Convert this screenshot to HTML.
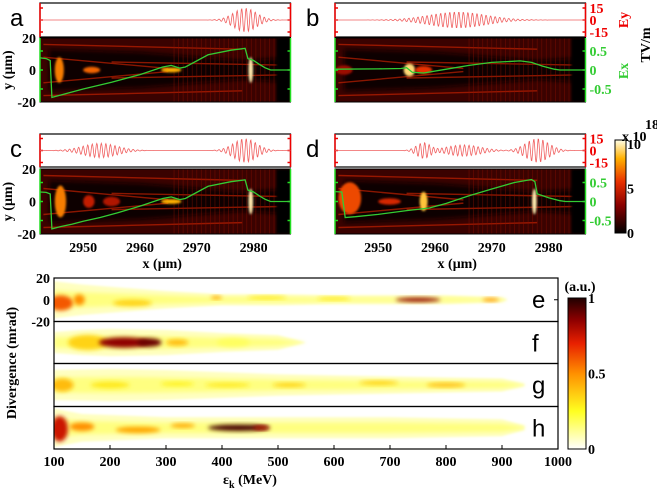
<!DOCTYPE html>
<html><head><meta charset="utf-8"><style>
html,body{margin:0;padding:0;background:#fff;}
svg{display:block;}
.tk{font-family:"Liberation Serif",serif;font-weight:bold;font-size:14px;}
.pl{font-family:"Liberation Sans",sans-serif;font-size:24px;}
</style></head><body>
<svg id="fig" width="657" height="491" viewBox="0 0 657 491" xmlns="http://www.w3.org/2000/svg">
<defs>
<filter id="bl2" x="-50%" y="-50%" width="200%" height="200%"><feGaussianBlur stdDeviation="2"/></filter>
<filter id="bl1" x="-50%" y="-50%" width="200%" height="200%"><feGaussianBlur stdDeviation="1"/></filter>
<linearGradient id="cbTop" x1="0" y1="1" x2="0" y2="0">
<stop offset="0" stop-color="#000"/><stop offset="0.3" stop-color="#8a0000"/><stop offset="0.55" stop-color="#e83000"/><stop offset="0.8" stop-color="#ffb000"/><stop offset="1" stop-color="#ffffe8"/></linearGradient>
<linearGradient id="cbBot" x1="0" y1="1" x2="0" y2="0">
<stop offset="0" stop-color="#ffffff"/><stop offset="0.25" stop-color="#ffff20"/><stop offset="0.5" stop-color="#ff9000"/><stop offset="0.7" stop-color="#e82000"/><stop offset="0.85" stop-color="#900000"/><stop offset="1" stop-color="#200000"/></linearGradient>
</defs>
<g id="topg"></g>
<g id="bottom"></g>
</svg>
<script>
// ---------- top panel data ----------
const panelNames = ['a','b','c','d'];
// Ex (TV/m) lineouts: [x um, Ex]
const exA = [[2942.4,0.32],[2943.5,0.3],[2944.2,0.25],[2944.5,-0.72],[2946,-0.66],[2950,-0.5],[2955,-0.32],[2960,-0.12],[2964,0.08],[2965.5,0.12],[2967,0.05],[2968,0.08],[2972,0.4],[2976,0.52],[2978.5,0.57],[2979,0.3],[2980,0.25],[2981,0.15],[2982,0.06],[2983,0],[2986.5,0]];
const exB = [[2942.4,0.02],[2950,0.03],[2954,0.04],[2955,0.06],[2956,-0.06],[2958,-0.08],[2962,0.02],[2966,0.12],[2970,0.2],[2975,0.24],[2977,0.2],[2979,0.1],[2981,0.02],[2982,0],[2986.5,0]];
const exC = [[2942.4,0.25],[2943.5,0.24],[2944.2,0.2],[2944.5,-0.72],[2946,-0.66],[2948,-0.6],[2950,-0.52],[2953,-0.42],[2956,-0.3],[2960,-0.12],[2964,0.08],[2965.5,0.12],[2967,0.05],[2968,0.08],[2972,0.4],[2976,0.52],[2978.5,0.57],[2979,0.3],[2980,0.25],[2981,0.15],[2982,0.06],[2983,0],[2986.5,0]];
const exD = [[2942.4,0.26],[2943.6,0.25],[2944.2,-0.42],[2946,-0.4],[2950,-0.34],[2955,-0.24],[2959,-0.17],[2962,-0.05],[2966,0.15],[2970,0.33],[2974,0.5],[2977,0.58],[2977.6,0.52],[2978,0.2],[2980,0.1],[2982,0.02],[2983,0],[2986.5,0]];
const exSeries = [exA, exB, exC, exD];
// Ey laser pulses: [centre um, halfwidth um, amplitude]
const eyA = [[2978.5,4,15]];
const eyB = [[2964,10,10]];
const eyC = [[2953,6,9],[2978.5,4,15]];
const eyD = [[2958,2.5,10],[2965,6,7],[2978,4,15]];
const eySeries = [eyA, eyB, eyC, eyD];
// density bright spots: [x um, y um, rx um, ry um, intensity]
const spotsA = [[2945.8,0,0.8,8,0.7],[2951.5,0,1.5,2,0.65],[2965.5,0,1.8,1.5,0.8],[2979.5,0,0.4,8,0.95]];
const spotsB = [[2944,0,1.5,3,0.35],[2955.5,0,1,4,0.9],[2958,0,1.5,2.5,0.55]];
const spotsC = [[2946,0,1,10,0.7],[2951,0,1,4,0.45],[2955,0,1.5,3,0.4],[2965.5,0,1.8,1.5,0.8],[2979.5,0,0.4,8,0.95]];
const spotsD = [[2945,2,2,10,0.6],[2952,0,2,2,0.5],[2958,0,0.7,6,0.85],[2977.5,0,0.4,8,0.95]];
const spotSeries = [spotsA, spotsB, spotsC, spotsD];
const xTicks = [2950,2960,2970,2980];
const yTicks = [20,0,-20];
const eyTicks = [15,0,-15];
const exTicks = [0.5,0,-0.5];

// ---------- bottom panel data ----------
const bottomNames = ['e','f','g','h'];
const envE = [100,150,200,300,400,500,600,700,800,900,910];
const envHwE = [17,14,12,8,5,5,4,4,4,2,0];
const envF = [100,150,200,300,400,450,500,550];
const envHwF = [10,12,13,12,9,8,7,0];
const envG = [100,200,300,400,500,600,700,800,900,940];
const envHwG = [14,15,14,12,10,9,8,7,6,1];
const envH = [100,150,300,500,700,900,940];
const envHwH = [18,13,10,10,10,8,2];
const envEnergies = [envE, envF, envG, envH];
const envHalfWidths = [envHwE, envHwF, envHwG, envHwH];
// hotspots: [energy MeV, div mrad, half-length MeV, half-height mrad, intensity]
const hotE = [[112,-3,22,7,0.6],[145,0,10,5,0.5],[240,-3,35,3,0.35],[390,2,10,1.5,0.45],[480,2,35,1.5,0.3],[600,1,30,1.5,0.3],[750,0,40,2,0.85],[880,0,15,1.5,0.5]];
const hotF = [[160,0,35,7,0.35],[225,0,45,5,0.85],[270,0,22,4,0.9],[320,0,20,3,0.4],[420,0,30,4,0.18]];
const hotG = [[115,0,20,6,0.4],[200,0,35,3,0.3],[320,1,30,2,0.28],[410,0,40,2,0.3],[520,0,30,2,0.35],[680,2,35,2,0.35],[800,0,35,2,0.4]];
const hotH = [[110,-1,15,12,0.75],[150,1,22,4,0.5],[250,-2,40,3,0.45],[330,2,22,2,0.45],[430,0,55,3,0.95],[470,0,15,2,0.8]];
const hotSeries = [hotE, hotF, hotG, hotH];
const eTicks = [100,200,300,400,500,600,700,800,900,1000];
const divTicks = [20,0,-20];
const cbTopTicks = [10,5,0];
const cbBotTicks = [1,0.5,0];

const NS='http://www.w3.org/2000/svg';
function mk(tag, attrs, parent){const e=document.createElementNS(NS,tag);for(const k in attrs)e.setAttribute(k,attrs[k]);parent.appendChild(e);return e;}
function txt(s, attrs, parent){const e=mk('text',attrs,parent);e.textContent=s;return e;}

const topG = document.getElementById('topg');
const px0 = [40,335,40,335], eyY0=[3,3,134,134], eyY1=[37,37,167,167], dY0=[38,38,169,169], dY1=[102,102,234,234];
const PW=250.5;
const uMin=2942.4, uMax=2986.5;
function xs(p,u){return px0[p]+(u-uMin)/(uMax-uMin)*PW;}
function ysD(p,v){return (dY0[p]+dY1[p])/2 - v/40*(dY1[p]-dY0[p]);}
function ysEx(p,v){return (dY0[p]+dY1[p])/2 - v*38;}
function ysEy(p,v){return (eyY0[p]+eyY1[p])/2 - v/15*12;}
function hot(t){
  t=Math.max(0,Math.min(1,t));
  const st=[[0,[0,0,0]],[0.3,[138,0,0]],[0.55,[232,48,0]],[0.8,[255,176,0]],[1,[255,255,232]]];
  for(let i=1;i<st.length;i++){if(t<=st[i][0]){const a=st[i-1],b=st[i],f=(t-a[0])/(b[0]-a[0]);return 'rgb('+a[1].map((c,j)=>Math.round(c+(b[1][j]-c)*f)).join(',')+')';}}
  return 'rgb(255,255,232)';
}
for(let p=0;p<4;p++){
  const g=mk('g',{},topG);
  
  
  const eb=mk('rect',{x:px0[p],y:eyY0[p],width:PW,height:eyY1[p]-eyY0[p],fill:'#fff',stroke:'#000','stroke-width':1.2},g);
  
  
  mk('line',{x1:px0[p],y1:eyY0[p],x2:px0[p],y2:eyY1[p],stroke:'#e00','stroke-width':1.5},g);
  mk('line',{x1:px0[p]+PW,y1:eyY0[p],x2:px0[p]+PW,y2:eyY1[p],stroke:'#e00','stroke-width':1.5},g);
  for(const t of eyTicks){mk('line',{x1:px0[p],y1:ysEy(p,t),x2:px0[p]+3,y2:ysEy(p,t),stroke:'#e00','stroke-width':1.5},g);mk('line',{x1:px0[p]+PW-3,y1:ysEy(p,t),x2:px0[p]+PW,y2:ysEy(p,t),stroke:'#e00','stroke-width':1.5},g);}
  let pts=[];
  for(let u=uMin;u<=uMax;u+=0.08){
    let v=0;
    for(const pu of eySeries[p]){const d=(u-pu[0])/pu[1];v+=pu[2]*Math.exp(-d*d*2)*Math.sin(2*Math.PI*(u-pu[0])/0.8);}
    pts.push(xs(p,u).toFixed(1)+','+ysEy(p,v).toFixed(1));
  }
  const ey=mk('polyline',{points:pts.join(' '),fill:'none',stroke:'#f06060','stroke-width':0.8},g);
  
  
  const dg=mk('g',{},g);
  
  
  const cp=mk('clipPath',{id:'clip'+p},dg);
  mk('rect',{x:px0[p],y:dY0[p],width:PW,height:dY1[p]-dY0[p]},cp);
  const cg=mk('g',{'clip-path':'url(#clip'+p+')'},dg);
  mk('rect',{x:px0[p],y:dY0[p],width:PW,height:dY1[p]-dY0[p],fill:'#3a0200'},cg);
  const xl=xs(p,2944), xr=xs(p,2987);
  mk('polygon',{points:`${xl},${ysD(p,13)} ${xs(p,2960)},${ysD(p,11)} ${xs(p,2978)},${ysD(p,6)} ${xr},${ysD(p,8)} ${xr},${ysD(p,-8)} ${xs(p,2978)},${ysD(p,-6)} ${xs(p,2960)},${ysD(p,-11)} ${xl},${ysD(p,-13)}`,fill:'#0a0000',filter:'url(#bl2)'},cg);
  const fil=[[2943,16,2978,13],[2943,-16,2978,-13],[2943,8,2965,1],[2943,-8,2965,-1],[2955,5,2986,3],[2955,-5,2986,-3]];
  for(const f of fil) mk('line',{x1:xs(p,f[0]),y1:ysD(p,f[1]),x2:xs(p,f[2]),y2:ysD(p,f[3]),stroke:'#c02000','stroke-width':1.4,opacity:0.7},cg);
  for(let u=2966;u<2985;u+=0.8) mk('line',{x1:xs(p,u),y1:dY0[p],x2:xs(p,u),y2:dY1[p],stroke:'#8a1000','stroke-width':0.8,opacity:0.5},cg);
  mk('rect',{x:xs(p,2984),y:dY0[p],width:xs(p,uMax)-xs(p,2984),height:dY1[p]-dY0[p],fill:'#000',filter:'url(#bl1)'},cg);
  for(const s of spotSeries[p]){
    mk('ellipse',{cx:xs(p,s[0]),cy:ysD(p,s[1]),rx:s[2]*PW/(uMax-uMin),ry:s[3]*1.6,fill:hot(s[4]),filter:'url(#bl1)'},cg);
  }
  mk('rect',{x:px0[p],y:dY0[p],width:PW,height:dY1[p]-dY0[p],fill:'none',stroke:'#000','stroke-width':1},dg);
  mk('line',{x1:px0[p],y1:dY0[p],x2:px0[p],y2:dY1[p],stroke:'#2d2','stroke-width':1.5},dg);
  mk('line',{x1:px0[p]+PW,y1:dY0[p],x2:px0[p]+PW,y2:dY1[p],stroke:'#2d2','stroke-width':1.5},dg);
  for(const t of exTicks){mk('line',{x1:px0[p],y1:ysEx(p,t),x2:px0[p]+3,y2:ysEx(p,t),stroke:'#2d2','stroke-width':1.5},dg);mk('line',{x1:px0[p]+PW-3,y1:ysEx(p,t),x2:px0[p]+PW,y2:ysEx(p,t),stroke:'#2d2','stroke-width':1.5},dg);}
  const ex=mk('polyline',{points:exSeries[p].map(d=>xs(p,d[0]).toFixed(1)+','+ysEx(p,d[1]).toFixed(1)).join(' '),fill:'none',stroke:'#3c3','stroke-width':1.3},dg);
  
  
  const lt=txt(panelNames[p],{x:p%2==0?10:306,y:p<2?26:157,class:'pl'},g);
  
  
  if(p%2==0){
    for(const t of yTicks){const e=txt(String(t),{x:36,y:ysD(p,t)+5,class:'tk','text-anchor':'end'},g);
      
      }
    const yl=txt('y (μm)',{x:0,y:0,class:'tk','text-anchor':'middle',transform:`translate(12,${ysD(p,0)}) rotate(-90)`},g);
    
    
  } else {
    for(const t of eyTicks){const e=txt(String(t),{x:px0[p]+PW+4,y:ysEy(p,t)+5,class:'tk',fill:'#e00'},g);
      
      }
    for(const t of exTicks){const e=txt(String(t),{x:px0[p]+PW+4,y:ysEx(p,t)+5,class:'tk',fill:'#3c3'},g);
      
      }
  }
  if(p>=2){
    for(const t of xTicks){const e=txt(String(t),{x:xs(p,t),y:252,class:'tk','text-anchor':'middle'},g);
      
      }
    const xl2=txt('x (μm)',{x:px0[p]+PW/2-3,y:268,class:'tk','text-anchor':'middle'},g);
    
    
  }
}
const eyl=txt('Ey',{x:0,y:0,class:'tk',fill:'#e00','text-anchor':'middle',transform:'translate(628,20) rotate(-90)'},topG);


const exl=txt('Ex',{x:0,y:0,class:'tk',fill:'#3c3','text-anchor':'middle',transform:'translate(628,71) rotate(-90)'},topG);


const tvl=txt('TV/m',{x:0,y:0,class:'tk',fill:'#000','text-anchor':'middle','font-size':'16px',transform:'translate(650,45) rotate(-90)'},topG);


const cb1=mk('rect',{x:615,y:140,width:11,height:93,fill:'url(#cbTop)',stroke:'#000','stroke-width':1},topG);


cbTopTicks.forEach(t=>{const e=txt(String(t),{x:627,y:233-t/10*89+5,class:'tk','font-size':'12px'},topG);
  
  });
const sc=txt('x 10',{x:622,y:141,class:'tk','font-size':'11px'},topG);


txt('18',{x:645,y:129,class:'tk','font-size':'9px','font-weight':'normal'},topG);

// ---------- bottom ----------
const botG=document.getElementById('bottom');
const bx0=54, bx1=558, bPH=[43.5,42,43,42.5];
const bTop=[278,321.5,363.5,406.5];
function xE(e){return bx0+(e-100)/900*(bx1-bx0);}
function yDiv(i,v){return bTop[i]+bPH[i]/2 - v*bPH[i]/40;}
function cmap(t){
  t=Math.max(0,Math.min(1,t));
  const st=[[0,[255,255,255]],[0.25,[255,255,32]],[0.5,[255,144,0]],[0.7,[232,32,0]],[0.85,[144,0,0]],[1,[32,0,0]]];
  for(let i=1;i<st.length;i++){if(t<=st[i][0]){const a=st[i-1],b=st[i],f=(t-a[0])/(b[0]-a[0]);return 'rgb('+a[1].map((c,j)=>Math.round(c+(b[1][j]-c)*f)).join(',')+')';}}
  return 'rgb(32,0,0)';
}
for(let i=0;i<4;i++){
  const g=mk('g',{},botG);
  
  
  const cp=mk('clipPath',{id:'bc'+i},g);
  mk('rect',{x:bx0,y:bTop[i],width:bx1-bx0,height:bPH[i]},cp);
  const cg=mk('g',{'clip-path':'url(#bc'+i+')'},g);
  const E=envEnergies[i], H=envHalfWidths[i];
  const up=E.map((e,k)=>xE(e)+','+yDiv(i,H[k])), dn=E.map((e,k)=>xE(e)+','+yDiv(i,-H[k])).reverse();
  const env=mk('polygon',{points:up.concat(dn).join(' '),fill:cmap(0.07),filter:'url(#bl1)'},cg);
  
  
  const up2=E.map((e,k)=>xE(e)+','+yDiv(i,H[k]*0.5)), dn2=E.map((e,k)=>xE(e)+','+yDiv(i,-H[k]*0.5)).reverse();
  mk('polygon',{points:up2.concat(dn2).join(' '),fill:cmap(0.16),filter:'url(#bl2)',opacity:0.8},cg);
  for(const h of hotSeries[i]){
    const hs=mk('ellipse',{cx:xE(h[0]),cy:yDiv(i,h[1]),rx:h[2]*(bx1-bx0)/900,ry:h[3]*bPH[i]/40,fill:cmap(h[4]),filter:'url(#bl2)'},cg);
    
    
  }
  mk('rect',{x:bx0,y:bTop[i],width:bx1-bx0,height:bPH[i],fill:'none',stroke:'#000','stroke-width':1.2},g);
  const lt=txt(bottomNames[i],{x:532,y:bTop[i]+30,class:'pl','font-size':'30px'},g);
  
  
}
mk('line',{x1:bx1-4,y1:yDiv(0,0),x2:bx1,y2:yDiv(0,0),stroke:'#000'},botG);
for(const t of divTicks){const e=txt(String(t),{x:bx0-4,y:yDiv(0,t)+5,class:'tk','text-anchor':'end'},botG);
  
  }
for(const t of eTicks){
  mk('line',{x1:xE(t),y1:449,x2:xE(t),y2:445,stroke:'#000'},botG);
  const e=txt(String(t),{x:xE(t),y:466,class:'tk','text-anchor':'middle'},botG);
  
  }
const dl=txt('Divergence (mrad)',{x:0,y:0,class:'tk','text-anchor':'middle',transform:'translate(16,363) rotate(-90)'},botG);


const etl=mk('text',{x:250,y:484,class:'tk','text-anchor':'middle'},botG);
etl.appendChild(document.createTextNode('ε'));
const sub=mk('tspan',{'font-size':'10',dy:'4'},etl); sub.textContent='k';
const rest=mk('tspan',{dy:'-4'},etl); rest.textContent=' (MeV)';


const cb2=mk('rect',{x:568,y:298,width:18,height:151,fill:'url(#cbBot)',stroke:'#000','stroke-width':1},botG);


cbBotTicks.forEach(t=>{const e=txt(String(t),{x:588,y:449-t*151+5,class:'tk'},botG);
  
  });
const au=txt('(a.u.)',{x:580,y:291,class:'tk','text-anchor':'middle'},botG);


</script>
</body></html>
